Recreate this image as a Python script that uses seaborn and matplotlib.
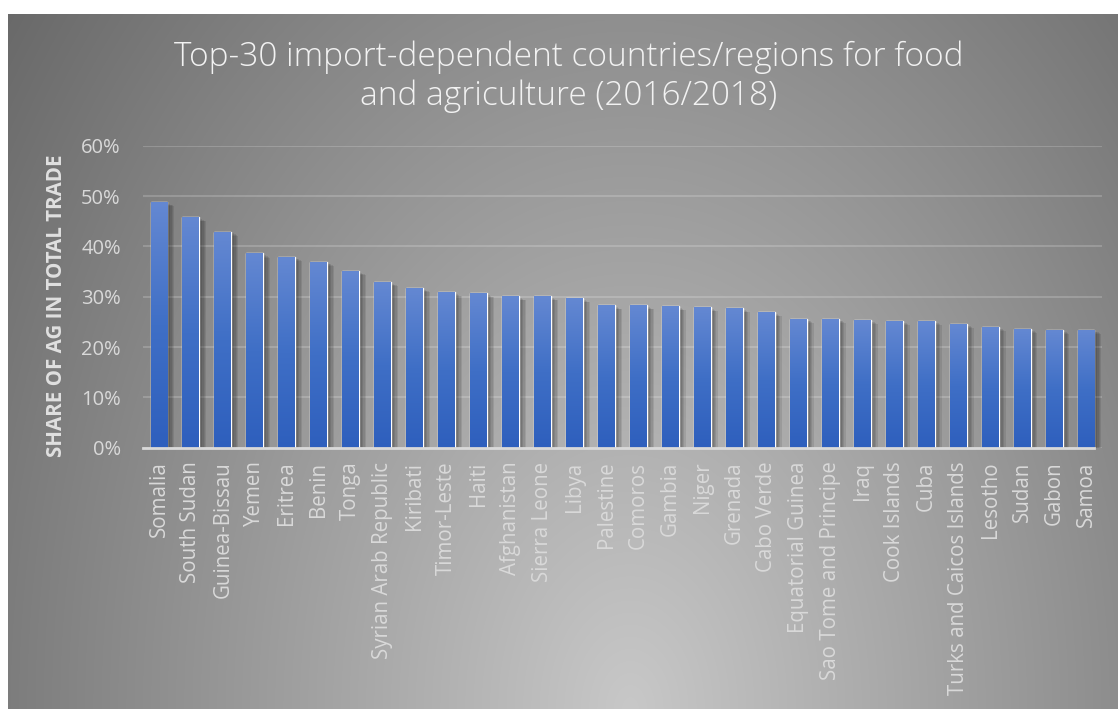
import numpy as np
import pandas as pd
import matplotlib
matplotlib.use("Agg")
import matplotlib.pyplot as plt
import matplotlib.patheffects as pe
from matplotlib.colors import LinearSegmentedColormap
import seaborn as sns

countries = ["Somalia", "South Sudan", "Guinea-Bissau", "Yemen", "Eritrea", "Benin",
             "Tonga", "Syrian Arab Republic", "Kiribati", "Timor-Leste", "Haiti",
             "Afghanistan", "Sierra Leone", "Libya", "Palestine", "Comoros", "Gambia",
             "Niger", "Grenada", "Cabo Verde", "Equatorial Guinea",
             "Sao Tome and Principe", "Iraq", "Cook Islands", "Cuba",
             "Turks and Caicos Islands", "Lesotho", "Sudan", "Gabon", "Samoa"]
shares = [0.488, 0.458, 0.429, 0.386, 0.379, 0.369, 0.351, 0.329, 0.317, 0.309,
          0.307, 0.301, 0.301, 0.297, 0.283, 0.283, 0.281, 0.279, 0.277, 0.269,
          0.256, 0.256, 0.254, 0.252, 0.252, 0.246, 0.240, 0.236, 0.234, 0.234]
yticks = [0, 0.1, 0.2, 0.3, 0.4, 0.5, 0.6]
ytick_labels = ["0%", "10%", "20%", "30%", "40%", "50%", "60%"]
title = "Top-30 import-dependent countries/regions for food\nand agriculture (2016/2018)"
ylabel = "SHARE OF AG IN TOTAL TRADE"

df = pd.DataFrame({"country": countries, "share": shares})

sns.set_style("white")
plt.rcParams['font.family'] = ['Open Sans', 'DejaVu Sans']

W, H = 1118, 709
fig = plt.figure(figsize=(W / 100, H / 100), dpi=100)
fig.patch.set_facecolor("white")

# background radial gradient
bg = fig.add_axes([8 / W, 0, 1 - 8 / W, (H - 14) / H], zorder=-10)
bw, bh = W - 8, H - 14
xx, yy = np.meshgrid(np.arange(bw) + 8, np.arange(bh) + 14)
cx, cy = 630, 709
t = np.sqrt(((xx - cx) / 785.0) ** 2 + ((yy - cy) / 1150.0) ** 2)
val = np.clip(200 - 95 * t, 95, 210) / 255.0
bg.imshow(np.dstack([val, val, val]), aspect="auto", extent=[0, 1, 0, 1], origin="upper")
bg.set_axis_off()

ax = fig.add_axes([143 / W, 1 - 447.7 / H, (1102 - 143) / W, (447.7 - 145.7) / H])
ax.set_facecolor("none")

sns.barplot(data=df, x="country", y="share", color="#4472c4", width=0.53,
            saturation=1, ax=ax, zorder=3)

cmap = LinearSegmentedColormap.from_list("bar", ["#2e5fbd", "#3f6fc6", "#6488d2"])
grad = np.linspace(0, 1, 256).reshape(-1, 1)
for p in ax.patches:
    shadows = [pe.SimplePatchShadow(offset=(o, -o * 0.6), shadow_rgbFace="black", alpha=0.09)
               for o in (1, 2, 3, 4, 5)]
    p.set_path_effects(shadows + [pe.Normal()])
    x0, y0 = p.get_x(), p.get_y()
    w, h = p.get_width(), p.get_height()
    im = ax.imshow(grad, cmap=cmap, aspect="auto", origin="lower",
                   extent=[x0, x0 + w, y0, y0 + h], zorder=4)
    im.set_clip_path(p)

ax.set_xlim(-0.5, 29.5)
ax.set_ylim(0, 0.6)
ax.set_yticks(yticks)
ax.set_yticklabels(ytick_labels)
for s in ["top", "right", "left"]:
    ax.spines[s].set_visible(False)
ax.spines["bottom"].set_color("#d9d9d9")
ax.spines["bottom"].set_linewidth(2)
ax.spines["bottom"].set_bounds(-0.5, 29.25)
ax.spines["bottom"].set_zorder(5)
ax.yaxis.grid(True, color="#ffffff", alpha=0.18, linewidth=1.5, zorder=0)
ax.set_axisbelow(True)
ax.tick_params(axis="y", length=0, pad=16, labelsize=14.5, labelcolor="#d9d9d9")
ax.tick_params(axis="x", length=0, pad=10, labelsize=14.8, labelcolor="#d9d9d9",
               labelrotation=90)
for lab in ax.get_xticklabels():
    lab.set_va("top")
ax.set_xlabel("")
ax.set_ylabel(ylabel, fontsize=14.8, fontweight="bold", color="#e0e0e0")
ax.yaxis.set_label_coords(-(143 - 67) / (1102 - 143), 0.47)

fig.text(569 / W, 1 - 77 / H, title, ha="center", va="center", fontsize=24,
         fontweight="light", color="#f2f2f2", linespacing=1.2)

fig.savefig("out.png", dpi=100, facecolor=fig.get_facecolor())
